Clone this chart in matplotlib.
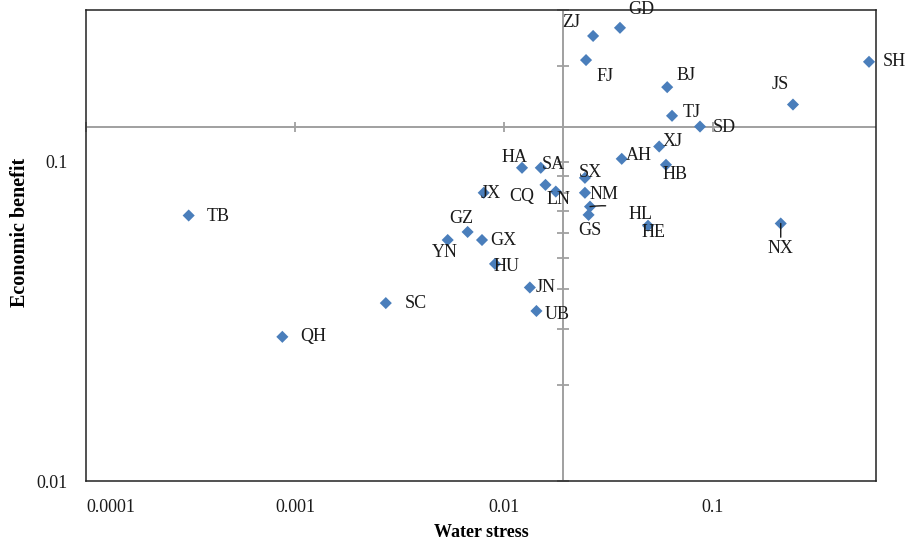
import matplotlib.pyplot as plt
import numpy as np

plt.rcParams['font.family'] = ['Liberation Serif', 'DejaVu Serif']

# Provinces and their values
regions = ['TB', 'QH', 'SC', 'YN', 'GZ', 'GX', 'HU', 'JN', 'UB', 'HA',
           'SA', 'CQ', 'LN', 'JX', 'SX', 'NM', 'HL', 'GS', 'AH', 'XJ',
           'HB', 'HE', 'ZJ', 'GD', 'FJ', 'BJ', 'TJ', 'SD', 'JS', 'SH', 'NX']
water_stress = [0.00031, 0.00087, 0.00272, 0.00538, 0.0067, 0.00785, 0.00906,
                0.0133, 0.0143, 0.0122, 0.0150, 0.0158, 0.0177, 0.0080,
                0.0244, 0.0244, 0.0258, 0.0254, 0.0366, 0.0553, 0.0596,
                0.0489, 0.0267, 0.0359, 0.0247, 0.0604, 0.0637, 0.0867,
                0.2415, 0.558, 0.211]
economic_benefit = [0.0679, 0.0283, 0.0361, 0.0569, 0.0603, 0.0569, 0.0479,
                    0.0404, 0.0341, 0.0958, 0.0958, 0.0847, 0.0807, 0.0800,
                    0.0891, 0.0800, 0.0724, 0.0682, 0.1022, 0.1117, 0.0979,
                    0.0631, 0.248, 0.263, 0.2084, 0.1714, 0.1394, 0.1290,
                    0.1512, 0.2058, 0.0641]

# axes cross each other at these values
x_cross = 0.0191
y_cross = 0.1287
x_major = [0.0001, 0.001, 0.01, 0.1]
x_labels = ['0.0001', '0.001', '0.01', '0.1']
y_minor = [0.01, 0.02, 0.03, 0.04, 0.05, 0.06, 0.07, 0.08, 0.09,
           0.1, 0.2, 0.3]

# label offsets in pixels (right, down) from the marker
label_offset = {
    'TB': (30, 1), 'QH': (31, 0), 'SC': (30, 0), 'YN': (-3, 12),
    'GZ': (-6, -13), 'GX': (21, 0), 'HU': (12, 3), 'JN': (16, 0),
    'UB': (21, 4), 'HA': (-8, -10), 'SA': (13, -3), 'CQ': (-24, 12),
    'LN': (3, 8), 'JX': (7, 1), 'SX': (5, -5), 'NM': (19, 2),
    'HL': (51, 8), 'GS': (1, 16), 'AH': (17, -3), 'XJ': (13, -5),
    'HB': (9, 10), 'HE': (5, 7), 'ZJ': (-22, -13), 'GD': (21, -18),
    'FJ': (19, 16), 'BJ': (19, -12), 'TJ': (20, -3), 'SD': (24, 1),
    'JS': (-13, -20), 'SH': (25, 0), 'NX': (0, 25),
}
leader = {'HL': 15, 'NX': 14}

fig = plt.figure(figsize=(9.08, 5.42), dpi=100)
ax = fig.add_axes([0.0947, 0.1125, 0.8701, 0.869])
ax.set_xscale('log')
ax.set_yscale('log')
ax.set_xlim(0.0001, 0.603)
ax.set_ylim(0.01, 0.299)

grey = '#A0A0A0'
ax.axvline(x_cross, color=grey, lw=1.4, zorder=1)
ax.axhline(y_cross, color=grey, lw=1.4, zorder=1)
# cross tick marks on the crossing axes
ax.plot(x_major, [y_cross] * len(x_major), ls='none', marker='|',
        ms=7.5, mew=1.3, color=grey, zorder=1, clip_on=False)
ax.plot([x_cross] * len(y_minor), y_minor, ls='none', marker='_',
        ms=8, mew=1.3, color=grey, zorder=1, clip_on=False)

ax.scatter(water_stress, economic_benefit, marker='D', s=38,
           color='#4A7EBB', edgecolors='none', zorder=3)

for name, xv, yv in zip(regions, water_stress, economic_benefit):
    dx, dy = label_offset[name]
    if name in leader:
        ax.annotate(name, (xv, yv), xytext=(dx, -dy), textcoords='offset pixels',
                    ha='center', va='center', fontsize=13, color='#1a1a1a',
                    zorder=4,
                    arrowprops=dict(arrowstyle='-', color='#1a1a1a', lw=1,
                                    shrinkA=leader[name], shrinkB=0,
                                    connectionstyle='arc3,rad=0.15' if name == 'HL' else 'arc3'))
    else:
        ax.annotate(name, (xv, yv), xytext=(dx, -dy), textcoords='offset pixels',
                    ha='center', va='center', fontsize=13, color='#1a1a1a',
                    zorder=4)

ax.set_xticks(x_major)
ax.set_xticklabels(x_labels)
ax.get_xticklabels()[0].set_horizontalalignment('left')
ax.set_yticks([0.01, 0.1])
ax.set_yticklabels(['0.01', '0.1'])
ax.minorticks_off()
ax.tick_params(axis='both', length=0, labelsize=13, colors='#1a1a1a')
ax.tick_params(axis='x', pad=13)
ax.tick_params(axis='y', pad=13)

for sp in ax.spines.values():
    sp.set_color('#222222')
    sp.set_linewidth(1.1)

ax.set_xlabel('Water stress', fontsize=13, fontweight='bold', labelpad=5.5)
ax.set_ylabel('Economic benefit', fontsize=14.5, fontweight='bold', va='center')
ax.yaxis.set_label_coords(-0.083, 0.528)

fig.savefig('out.png', dpi=100)
